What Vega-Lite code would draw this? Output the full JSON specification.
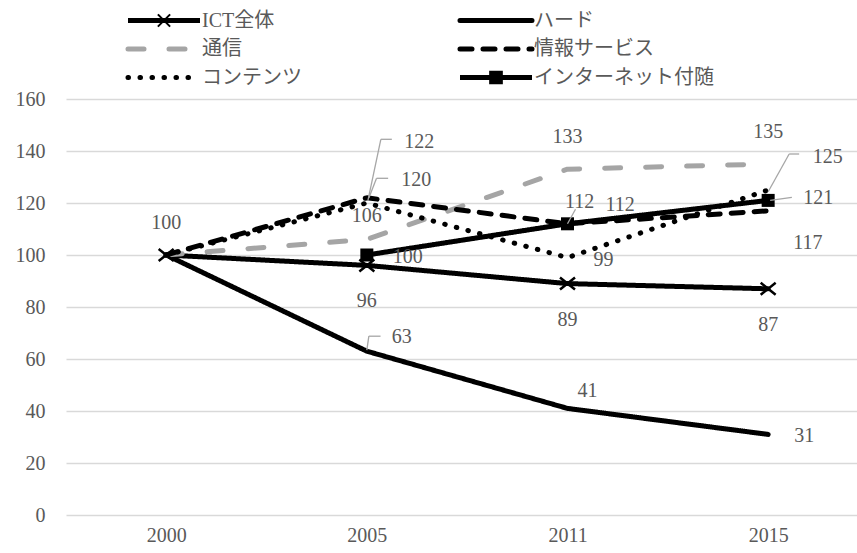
{
  "$schema": "https://vega.github.io/schema/vega-lite/v6.json",
  "autosize": {"type": "none"},
  "width": 791,
  "height": 416,
  "padding": {"left": 66, "top": 99, "right": 0, "bottom": 38},
  "background": "white",
  "config": {
    "view": {"stroke": null},
    "font": "Liberation Serif, Noto Sans CJK JP",
    "text": {"font": "Liberation Serif, Noto Sans CJK JP", "fontSize": 20, "fill": "#595959", "baseline": "middle"},
    "axis": {
      "labelFont": "Liberation Serif, Noto Sans CJK JP",
      "labelFontSize": 20,
      "labelColor": "#595959",
      "ticks": false,
      "domain": false,
      "title": null
    }
  },
  "data": {
    "values": [
      {"series": "ICT全体", "year": "2000", "value": 100},
      {"series": "ICT全体", "year": "2005", "value": 96},
      {"series": "ICT全体", "year": "2011", "value": 89},
      {"series": "ICT全体", "year": "2015", "value": 87},
      {"series": "ハード", "year": "2000", "value": 100},
      {"series": "ハード", "year": "2005", "value": 63},
      {"series": "ハード", "year": "2011", "value": 41},
      {"series": "ハード", "year": "2015", "value": 31},
      {"series": "通信", "year": "2000", "value": 100},
      {"series": "通信", "year": "2005", "value": 106},
      {"series": "通信", "year": "2011", "value": 133},
      {"series": "通信", "year": "2015", "value": 135},
      {"series": "情報サービス", "year": "2000", "value": 100},
      {"series": "情報サービス", "year": "2005", "value": 122},
      {"series": "情報サービス", "year": "2011", "value": 112},
      {"series": "情報サービス", "year": "2015", "value": 117},
      {"series": "コンテンツ", "year": "2000", "value": 100},
      {"series": "コンテンツ", "year": "2005", "value": 120},
      {"series": "コンテンツ", "year": "2011", "value": 99},
      {"series": "コンテンツ", "year": "2015", "value": 125},
      {"series": "インターネット付随", "year": "2005", "value": 100},
      {"series": "インターネット付随", "year": "2011", "value": 112},
      {"series": "インターネット付随", "year": "2015", "value": 121}
    ]
  },
  "encoding": {
    "x": {
      "field": "year",
      "type": "ordinal",
      "sort": ["2000", "2005", "2011", "2015"],
      "scale": {"type": "point", "padding": 0.471, "align": 0.53},
      "axis": {"labelAngle": 0, "labelPadding": 10, "labelBaseline": "top", "grid": false}
    },
    "y": {
      "field": "value",
      "type": "quantitative",
      "scale": {"domain": [0, 160], "nice": false, "zero": true},
      "axis": {
        "values": [0, 20, 40, 60, 80, 100, 120, 140, 160],
        "grid": true,
        "gridColor": "#D9D9D9",
        "gridWidth": 1.3,
        "labelPadding": 21
      }
    }
  },
  "layer": [
    {
      "mark": {"type": "line", "strokeWidth": 5, "strokeCap": "round", "strokeJoin": "round"},
      "encoding": {
        "detail": {"field": "series"},
        "color": {
          "field": "series",
          "type": "nominal",
          "scale": {
            "domain": ["ICT全体", "通信", "コンテンツ", "ハード", "情報サービス", "インターネット付随"],
            "range": ["#000000", "#A5A5A5", "#000000", "#000000", "#000000", "#000000"]
          },
          "legend": {
            "orient": "none",
            "legendX": 88,
            "legendY": -88.5,
            "columns": 2,
            "columnPadding": 148,
            "rowPadding": 8.5,
            "gridAlign": "each",
            "padding": 0,
            "title": null,
            "symbolType": "stroke",
            "symbolSize": 5184,
            "symbolStrokeWidth": 5,
            "labelFont": "Liberation Serif, Noto Sans CJK JP",
            "labelFontSize": 20,
            "labelColor": "#595959",
            "labelOffset": 28,
            "labelLimit": 400,
            "encode": {
              "symbols": {
                "update": {
                  "shape": {"signal": "datum.value === 'ICT全体' ? 'M-1,-0.07H1V0.07H-1Z M-0.15,-0.19L0.19,0.15L0.15,0.19L-0.19,-0.15Z M-0.15,0.19L-0.19,0.15L0.15,-0.19L0.19,-0.15Z' : datum.value === 'インターネット付随' ? 'M-1,-0.07H1V0.07H-1Z M-0.19,-0.19H0.19V0.19H-0.19Z' : 'stroke'"},
                  "fill": {"signal": "(datum.value === 'ICT全体' || datum.value === 'インターネット付随') ? '#000000' : 'transparent'"},
                  "stroke": {"signal": "datum.value === '通信' ? '#A5A5A5' : '#000000'"},
                  "strokeWidth": {"signal": "(datum.value === 'ICT全体' || datum.value === 'インターネット付随') ? 0 : 5"},
                  "strokeDash": {"signal": "datum.value === '通信' ? [14, 27] : datum.value === '情報サービス' ? [12, 11] : datum.value === 'コンテンツ' ? [0.5, 11.5] : [1, 0]"},
                  "strokeCap": {"value": "round"},
                  "opacity": {"value": 1}
                }
              }
            }
          }
        },
        "strokeDash": {
          "field": "series",
          "type": "nominal",
          "scale": {
            "domain": ["ICT全体", "通信", "コンテンツ", "ハード", "情報サービス", "インターネット付随"],
            "range": [[1, 0], [16, 25], [0.5, 11.5], [1, 0], [12, 11], [1, 0]]
          },
          "legend": null
        }
      }
    },
    {
      "transform": [{"filter": "datum.series === 'ICT全体'"}],
      "mark": {"type": "point", "shape": "M-1,-0.8L1,0.8M-1,0.8L1,-0.8", "size": 225, "stroke": "#000000", "strokeWidth": 2.5, "filled": false, "opacity": 1}
    },
    {
      "transform": [{"filter": "datum.series === 'インターネット付随'"}],
      "mark": {"type": "point", "shape": "square", "size": 169, "fill": "#000000", "filled": true, "opacity": 1}
    },
    {
      "transform": [{"filter": "datum.series === '情報サービス' && datum.year === '2005'"}],
      "layer": [
        {"mark": {"type": "rule", "color": "#A6A6A6", "strokeWidth": 1.3, "xOffset": 1, "yOffset": 3, "x2Offset": 14, "y2Offset": -58.5},
         "encoding": {"x2": {"field": "year"}, "y2": {"field": "value"}}},
        {"mark": {"type": "rule", "color": "#A6A6A6", "strokeWidth": 1.3, "xOffset": 14, "yOffset": -58.5, "x2Offset": 25, "y2Offset": -58.5},
         "encoding": {"x2": {"field": "year"}, "y2": {"field": "value"}}}
      ]
    },
    {
      "transform": [{"filter": "datum.series === 'コンテンツ' && datum.year === '2005'"}],
      "layer": [
        {"mark": {"type": "rule", "color": "#A6A6A6", "strokeWidth": 1.3, "xOffset": 2, "yOffset": -5, "x2Offset": 9.7, "y2Offset": -24.7},
         "encoding": {"x2": {"field": "year"}, "y2": {"field": "value"}}},
        {"mark": {"type": "rule", "color": "#A6A6A6", "strokeWidth": 1.3, "xOffset": 9.7, "yOffset": -24.7, "x2Offset": 21.3, "y2Offset": -24.7},
         "encoding": {"x2": {"field": "year"}, "y2": {"field": "value"}}}
      ]
    },
    {
      "transform": [{"filter": "datum.series === 'ハード' && datum.year === '2005'"}],
      "layer": [
        {"mark": {"type": "rule", "color": "#A6A6A6", "strokeWidth": 1.3, "xOffset": 0, "yOffset": -1, "x2Offset": 2, "y2Offset": -15},
         "encoding": {"x2": {"field": "year"}, "y2": {"field": "value"}}},
        {"mark": {"type": "rule", "color": "#A6A6A6", "strokeWidth": 1.3, "xOffset": 2, "yOffset": -15, "x2Offset": 13.7, "y2Offset": -15},
         "encoding": {"x2": {"field": "year"}, "y2": {"field": "value"}}}
      ]
    },
    {
      "transform": [{"filter": "datum.series === 'インターネット付随' && datum.year === '2011'"}],
      "mark": {"type": "rule", "color": "#A6A6A6", "strokeWidth": 1.3, "xOffset": 0, "yOffset": 0, "x2Offset": 8, "y2Offset": -14.5},
      "encoding": {"x2": {"field": "year"}, "y2": {"field": "value"}}
    },
    {
      "transform": [{"filter": "datum.series === 'コンテンツ' && datum.year === '2015'"}],
      "layer": [
        {"mark": {"type": "rule", "color": "#A6A6A6", "strokeWidth": 1.3, "xOffset": 0, "yOffset": 1.7, "x2Offset": 21, "y2Offset": -36},
         "encoding": {"x2": {"field": "year"}, "y2": {"field": "value"}}},
        {"mark": {"type": "rule", "color": "#A6A6A6", "strokeWidth": 1.3, "xOffset": 21, "yOffset": -36, "x2Offset": 31, "y2Offset": -36},
         "encoding": {"x2": {"field": "year"}, "y2": {"field": "value"}}}
      ]
    },
    {
      "transform": [{"filter": "datum.series === 'インターネット付随' && datum.year === '2015'"}],
      "mark": {"type": "rule", "color": "#A6A6A6", "strokeWidth": 1.3, "xOffset": 2, "yOffset": 0, "x2Offset": 23.7, "y2Offset": -3},
      "encoding": {"x2": {"field": "year"}, "y2": {"field": "value"}}
    },
    {
      "transform": [{"filter": "(datum.series === 'ICT全体' && datum.year === '2000') || (datum.series === '通信' && (datum.year === '2011' || datum.year === '2015'))"}],
      "mark": {"type": "text", "align": "center", "dy": -32},
      "encoding": {"text": {"field": "value"}}
    },
    {
      "transform": [{"filter": "datum.series === 'ICT全体' && datum.year !== '2000'"}],
      "mark": {"type": "text", "align": "center", "dy": 36},
      "encoding": {"text": {"field": "value"}}
    },
    {
      "transform": [{"filter": "(datum.series === 'ハード' && datum.year === '2015') || (datum.series === 'コンテンツ' && datum.year === '2011') || (datum.series === 'インターネット付随' && datum.year === '2005')"}],
      "mark": {"type": "text", "align": "left", "dx": 26, "dy": 2},
      "encoding": {"text": {"field": "value"}}
    },
    {
      "transform": [{"filter": "datum.series === '通信' && datum.year === '2005'"}],
      "mark": {"type": "text", "align": "center", "dy": -23},
      "encoding": {"text": {"field": "value"}}
    },
    {
      "transform": [{"filter": "datum.series === 'ハード' && datum.year === '2005'"}],
      "mark": {"type": "text", "align": "left", "dx": 25, "dy": -14},
      "encoding": {"text": {"field": "value"}}
    },
    {
      "transform": [{"filter": "datum.series === 'ハード' && datum.year === '2011'"}],
      "mark": {"type": "text", "align": "left", "dx": 10, "dy": -17},
      "encoding": {"text": {"field": "value"}}
    },
    {
      "transform": [{"filter": "datum.series === '情報サービス' && datum.year === '2005'"}],
      "mark": {"type": "text", "align": "left", "dx": 37.5, "dy": -56},
      "encoding": {"text": {"field": "value"}}
    },
    {
      "transform": [{"filter": "datum.series === '情報サービス' && datum.year === '2011'"}],
      "mark": {"type": "text", "align": "left", "dx": 38, "dy": -19},
      "encoding": {"text": {"field": "value"}}
    },
    {
      "transform": [{"filter": "datum.series === '情報サービス' && datum.year === '2015'"}],
      "mark": {"type": "text", "align": "left", "dx": 25, "dy": 32.5},
      "encoding": {"text": {"field": "value"}}
    },
    {
      "transform": [{"filter": "datum.series === 'コンテンツ' && datum.year === '2005'"}],
      "mark": {"type": "text", "align": "left", "dx": 34.5, "dy": -23},
      "encoding": {"text": {"field": "value"}}
    },
    {
      "transform": [{"filter": "datum.series === 'コンテンツ' && datum.year === '2015'"}],
      "mark": {"type": "text", "align": "left", "dx": 44.5, "dy": -33},
      "encoding": {"text": {"field": "value"}}
    },
    {
      "transform": [{"filter": "datum.series === 'インターネット付随' && datum.year === '2011'"}],
      "mark": {"type": "text", "align": "center", "dx": 12, "dy": -22},
      "encoding": {"text": {"field": "value"}}
    },
    {
      "transform": [{"filter": "datum.series === 'インターネット付随' && datum.year === '2015'"}],
      "mark": {"type": "text", "align": "left", "dx": 35, "dy": -2},
      "encoding": {"text": {"field": "value"}}
    }
  ]
}
